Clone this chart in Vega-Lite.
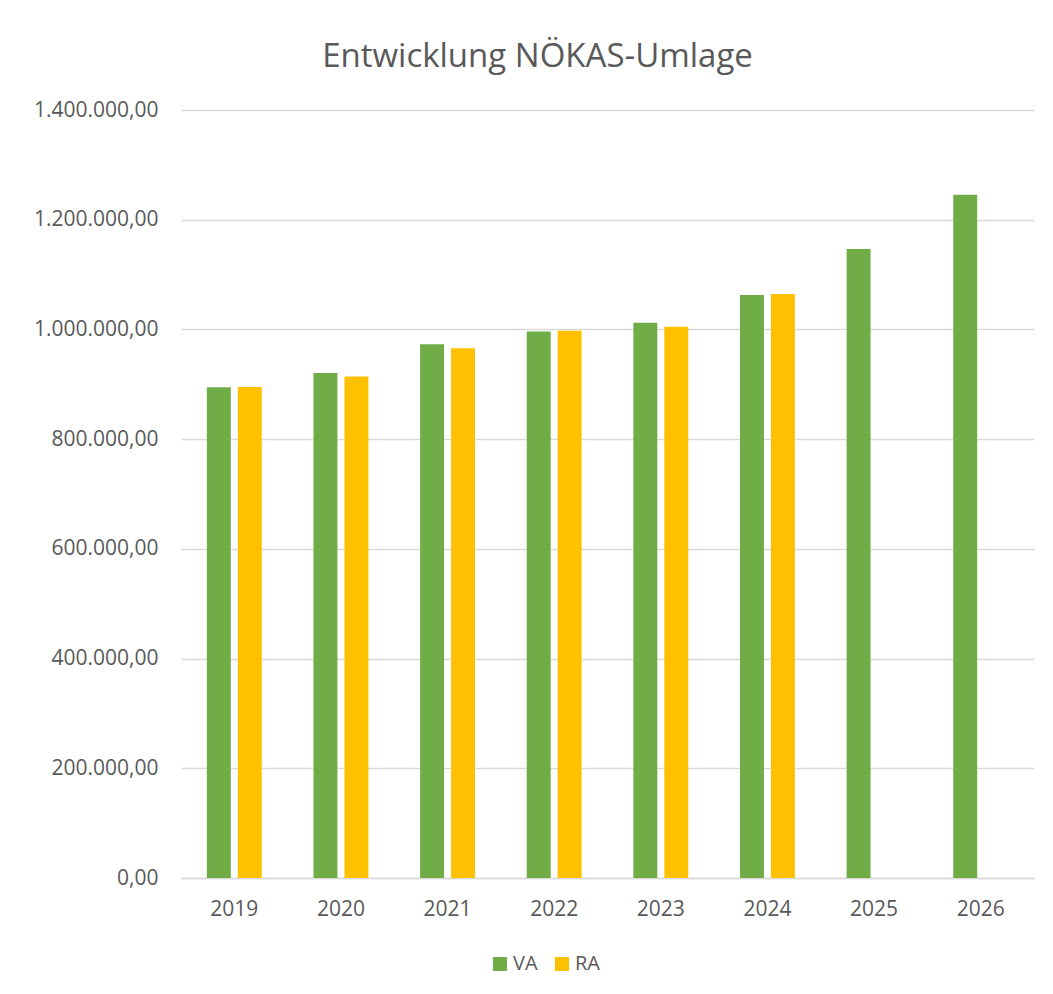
{
  "$schema": "https://vega.github.io/schema/vega-lite/v6.json",
  "autosize": {"type": "none"},
  "padding": {"left": 181, "top": 110, "right": 19, "bottom": 116},
  "width": 853,
  "height": 768,
  "background": "white",
  "title": {
    "text": "Entwicklung NÖKAS-Umlage",
    "font": "Open Sans",
    "fontSize": 33,
    "fontWeight": "normal",
    "color": "#595959",
    "anchor": "middle",
    "dx": -70,
    "offset": 25
  },
  "data": {
    "values": [
      {"Jahr": "2019", "Serie": "VA", "Wert": 894700},
      {"Jahr": "2019", "Serie": "RA", "Wert": 895000},
      {"Jahr": "2020", "Serie": "VA", "Wert": 920800},
      {"Jahr": "2020", "Serie": "RA", "Wert": 914000},
      {"Jahr": "2021", "Serie": "VA", "Wert": 973000},
      {"Jahr": "2021", "Serie": "RA", "Wert": 965900},
      {"Jahr": "2022", "Serie": "VA", "Wert": 996000},
      {"Jahr": "2022", "Serie": "RA", "Wert": 997400},
      {"Jahr": "2023", "Serie": "VA", "Wert": 1012000},
      {"Jahr": "2023", "Serie": "RA", "Wert": 1004700},
      {"Jahr": "2024", "Serie": "VA", "Wert": 1062600},
      {"Jahr": "2024", "Serie": "RA", "Wert": 1064400},
      {"Jahr": "2025", "Serie": "VA", "Wert": 1146500},
      {"Jahr": "2026", "Serie": "VA", "Wert": 1245600}
    ]
  },
  "mark": {"type": "bar"},
  "encoding": {
    "x": {
      "field": "Jahr",
      "type": "nominal",
      "title": null,
      "scale": {"paddingInner": 0.485, "paddingOuter": 0.2425},
      "axis": {
        "labelAngle": 0,
        "ticks": false,
        "domain": true,
        "domainColor": "#D9D9D9",
        "domainWidth": 1.5,
        "labelPadding": 20,
        "labelFont": "Open Sans",
        "labelFontSize": 21,
        "labelColor": "#595959"
      }
    },
    "xOffset": {
      "field": "Serie",
      "type": "nominal",
      "sort": ["VA", "RA"],
      "scale": {"paddingInner": 0.226, "paddingOuter": 0}
    },
    "y": {
      "field": "Wert",
      "type": "quantitative",
      "title": null,
      "scale": {"domain": [0, 1400000], "nice": false},
      "axis": {
        "values": [0, 200000, 400000, 600000, 800000, 1000000, 1200000, 1400000],
        "format": ",.2f",
        "ticks": false,
        "domain": false,
        "grid": true,
        "gridColor": "#D9D9D9",
        "gridWidth": 1.5,
        "labelPadding": 23,
        "labelFont": "Open Sans",
        "labelFontSize": 21,
        "labelColor": "#595959"
      }
    },
    "color": {
      "field": "Serie",
      "type": "nominal",
      "sort": ["VA", "RA"],
      "scale": {"domain": ["VA", "RA"], "range": ["#70AD47", "#FFC000"]},
      "legend": {
        "title": null,
        "orient": "none",
        "legendX": 309,
        "legendY": 844,
        "direction": "horizontal",
        "symbolType": "square",
        "symbolSize": 196,
        "symbolStrokeWidth": 0,
        "symbolOffset": 0,
        "labelOffset": 3,
        "labelFont": "Open Sans",
        "labelFontSize": 20,
        "labelColor": "#595959",
        "columnPadding": 14,
        "padding": 0
      }
    }
  },
  "config": {
    "view": {"stroke": null},
    "locale": {
      "number": {"decimal": ",", "thousands": ".", "grouping": [3], "currency": ["", " €"]}
    }
  }
}
